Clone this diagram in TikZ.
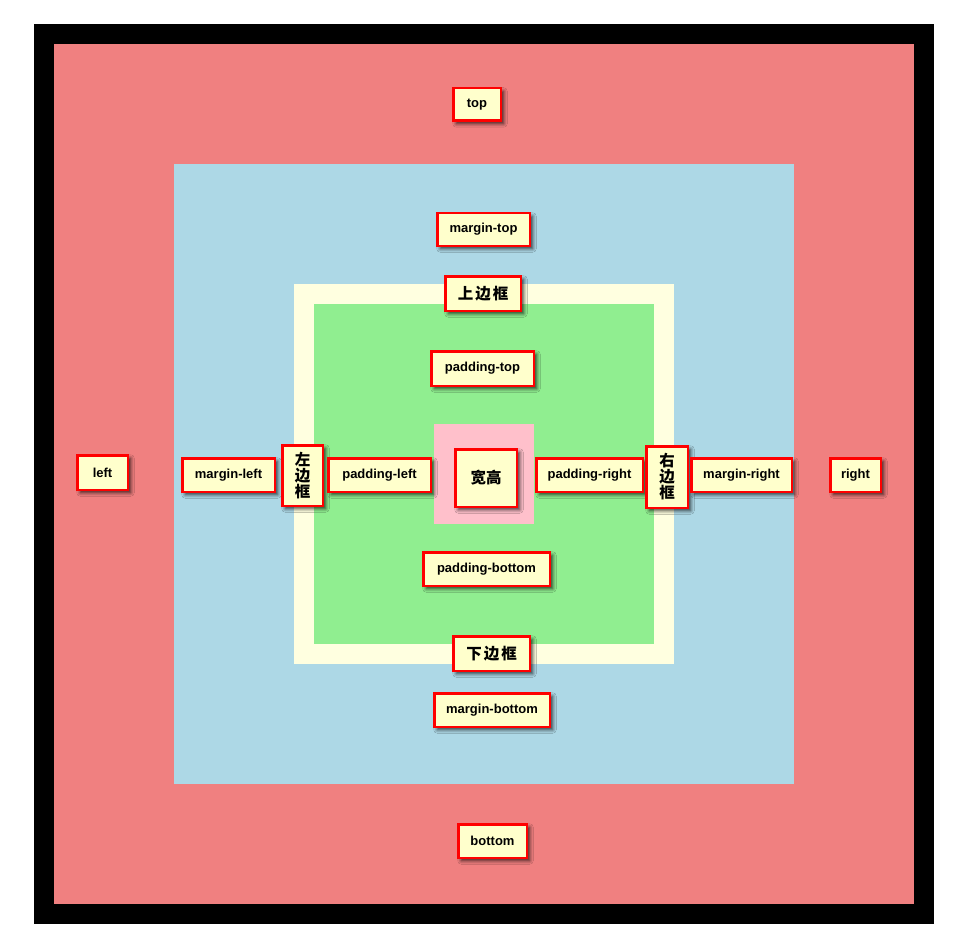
\documentclass[tikz,border=0pt]{standalone}
\usepackage{fontspec}
\setmainfont{Liberation Sans}
\newfontfamily\cjk{Noto Sans CJK SC}
\usetikzlibrary{shadows.blur}
\definecolor{salmonc}{HTML}{F08080}
\definecolor{bluec}{HTML}{ADD8E6}
\definecolor{ivoryc}{HTML}{FFFFE0}
\definecolor{greenc}{HTML}{90EE90}
\definecolor{pinkc}{HTML}{FFC0CB}
\definecolor{boxfill}{HTML}{FFFFCC}
\tikzset{
  lbl/.style={draw=red, line width=2.5pt, fill=boxfill, inner sep=0pt, align=center,
    font=\fontsize{13}{15}\selectfont\bfseries,
    blur shadow={shadow xshift=3pt, shadow yshift=-3pt, shadow blur radius=3.5pt, shadow blur steps=6, shadow opacity=75}},
  cj/.style={font=\cjk\bfseries\fontsize{15.5}{16}\selectfont}
}
\begin{document}
\begin{tikzpicture}[x=1pt,y=-1pt]
\useasboundingbox (0,0) rectangle (965,941);
\fill[white] (0,0) rectangle (965,941);
\fill[black] (34,24) rectangle (934,924);
\fill[salmonc] (54,44) rectangle (914,904);
\fill[bluec] (174,164) rectangle (794,784);
\fill[ivoryc] (294,284) rectangle (674,664);
\fill[greenc] (314,304) rectangle (654,644);
\fill[pinkc] (434,424) rectangle (534,524);

\node[lbl, minimum width=47.5pt, minimum height=32.5pt] (top) at (477,104.5) {top};
\node[lbl, minimum width=92.5pt, minimum height=32.5pt] (mtop) at (483.5,229.5) {margin-top};
\node[lbl, cj, minimum width=75.5pt, minimum height=34.5pt] (btop) at (483,293.5) {上\hspace{2pt}边\hspace{2pt}框};
\node[lbl, minimum width=102.5pt, minimum height=34.5pt] (ptop) at (482.5,368.5) {padding-top};
\node[lbl, minimum width=50.5pt, minimum height=34.5pt] (left) at (102.5,472.5) {left};
\node[lbl, minimum width=92.5pt, minimum height=33.5pt] (mleft) at (228.5,475) {margin-left};
\node[lbl, cj, minimum width=40.5pt, minimum height=60.5pt] (bleft) at (302.5,475.5) {左\\边\\框};
\node[lbl, minimum width=102.5pt, minimum height=33.5pt] (pleft) at (379.5,475) {padding-left};
\node[lbl, cj, minimum width=61.5pt, minimum height=57.5pt] (wh) at (486,478) {宽高};
\node[lbl, minimum width=106.5pt, minimum height=33.5pt] (pright) at (589.5,475) {padding-right};
\node[lbl, cj, minimum width=41.5pt, minimum height=61.5pt] (bright) at (667,477) {右\\边\\框};
\node[lbl, minimum width=100.5pt, minimum height=33.5pt] (mright) at (741.5,475) {margin-right};
\node[lbl, minimum width=50.5pt, minimum height=33.5pt] (right) at (855.5,475) {right};
\node[lbl, minimum width=126.5pt, minimum height=33.5pt] (pbot) at (486.5,569) {padding-bottom};
\node[lbl, cj, minimum width=76.5pt, minimum height=34.5pt] (bbot) at (491.5,653.5) {下\hspace{2pt}边\hspace{2pt}框};
\node[lbl, minimum width=115.5pt, minimum height=33.5pt] (mbot) at (492,710) {margin-bottom};
\node[lbl, minimum width=68.5pt, minimum height=33.5pt] (bottom) at (492.5,841) {bottom};
\end{tikzpicture}
\end{document}
